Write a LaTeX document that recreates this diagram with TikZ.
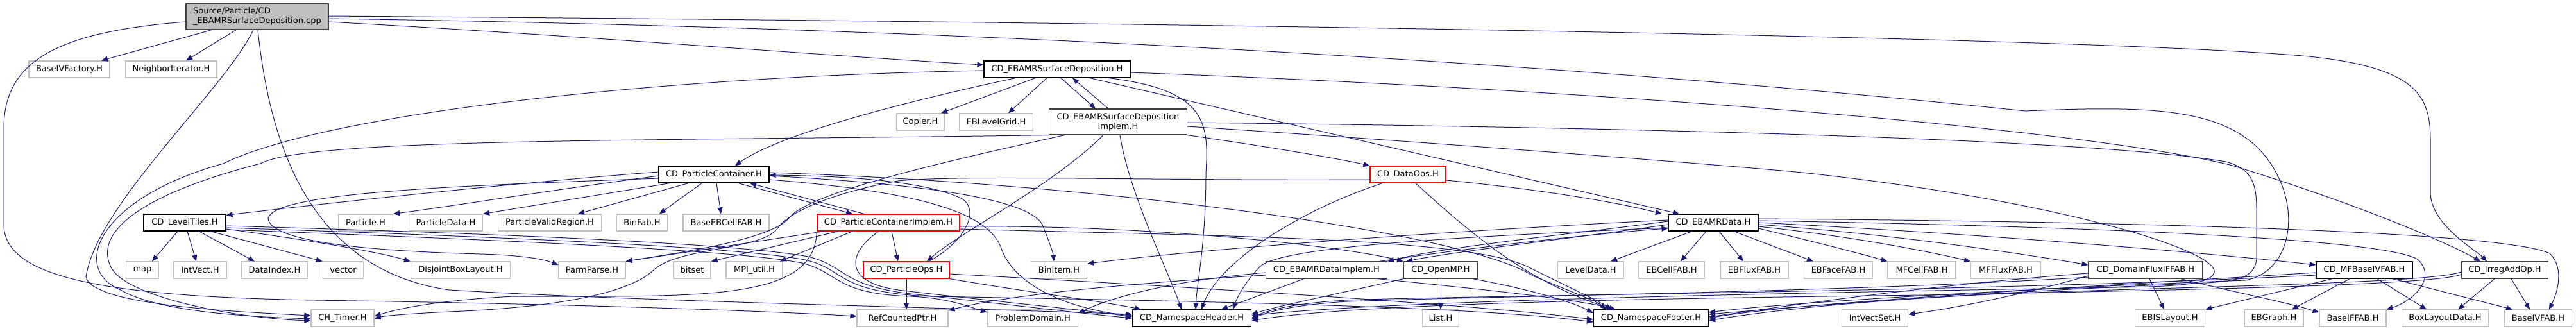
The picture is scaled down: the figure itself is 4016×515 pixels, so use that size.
\documentclass[tikz,border=0pt]{standalone}
\usepackage{fontspec}
\setmainfont{DejaVu Sans}
\usetikzlibrary{arrows.meta}
\definecolor{edgec}{HTML}{191970}
\definecolor{greyb}{HTML}{BFBFBF}
\definecolor{darkb}{HTML}{404040}
\begin{document}
\begin{tikzpicture}[x=1pt,y=-1pt,
  nb/.style={draw=black, fill=white, line width=1.2pt, inner sep=0pt, minimum height=26pt, font=\fontsize{13}{15}\selectfont},
  gb/.style={nb, draw=greyb},
  rb/.style={nb, draw=red},
  db/.style={nb, draw=darkb},
  rootn/.style={nb, draw=darkb, fill=greyb, minimum height=40pt, align=left},
  dep/.style={draw=edgec, line width=1pt, -{Triangle[length=10pt,width=8pt]}}
]
\useasboundingbox (0,0) rectangle (4016,515);
% ---------------- nodes ----------------
\node[rootn, minimum width=222pt] (R) at (401,26) {Source/Particle/CD\\\_EBAMRSurfaceDeposition.cpp};
\node[gb, minimum width=126pt] (BIVF) at (108,108) {BaseIVFactory.H};
\node[gb, minimum width=142pt] (NI) at (267,108) {NeighborIterator.H};
\node[nb, minimum width=228pt] (SD) at (1648,108) {CD\_EBAMRSurfaceDeposition.H};
\node[gb, minimum width=74pt] (COP) at (1435,190) {Copier.H};
\node[gb, minimum width=115pt] (EBLG) at (1553,190) {EBLevelGrid.H};
\node[db, minimum width=215pt, minimum height=40pt, align=center] (IMP) at (1743,190) {CD\_EBAMRSurfaceDeposition\\Implem.H};
\node[nb, minimum width=172pt] (PC) at (1113,272) {CD\_ParticleContainer.H};
\node[rb, minimum width=118pt] (DO) at (2195,272) {CD\_DataOps.H};
\node[nb, minimum width=128pt] (LT) at (288,347) {CD\_LevelTiles.H};
\node[gb, minimum width=85pt] (PART) at (570,347) {Particle.H};
\node[gb, minimum width=115pt] (PDAT) at (695,347) {ParticleData.H};
\node[gb, minimum width=161pt] (PVR) at (857,347) {ParticleValidRegion.H};
\node[gb, minimum width=79pt] (BINF) at (1001,347) {BinFab.H};
\node[gb, minimum width=134pt] (BEBC) at (1132,347) {BaseEBCellFAB.H};
\node[rb, minimum width=222pt] (PCI) at (1385,347) {CD\_ParticleContainerImplem.H};
\node[nb, minimum width=140pt] (EBD) at (2671,347) {CD\_EBAMRData.H};
\node[gb, minimum width=51pt] (MAP) at (222,421) {map};
\node[gb, minimum width=82pt] (IV) at (312,421) {IntVect.H};
\node[gb, minimum width=103pt] (DI) at (428,421) {DataIndex.H};
\node[gb, minimum width=63pt] (VEC) at (535,421) {vector};
\node[gb, minimum width=155pt] (DBL) at (718,421) {DisjointBoxLayout.H};
\node[gb, minimum width=104pt] (PP) at (923,421) {ParmParse.H};
\node[gb, minimum width=58pt] (BITS) at (1079,421) {bitset};
\node[gb, minimum width=88pt] (MPI) at (1176,421) {MPI\_util.H};
\node[rb, minimum width=134pt] (POPS) at (1413,421) {CD\_ParticleOps.H};
\node[gb, minimum width=87pt] (BINI) at (1651,421) {BinItem.H};
\node[db, minimum width=189pt] (EDI) at (2068,421) {CD\_EBAMRDataImplem.H};
\node[db, minimum width=115pt] (OMP) at (2246,421) {CD\_OpenMP.H};
\node[gb, minimum width=103pt] (LD) at (2480,421) {LevelData.H};
\node[gb, minimum width=103pt] (EBCF) at (2606,421) {EBCellFAB.H};
\node[gb, minimum width=106pt] (EBFL) at (2735,421) {EBFluxFAB.H};
\node[gb, minimum width=107pt] (EBFA) at (2866,421) {EBFaceFAB.H};
\node[gb, minimum width=106pt] (MFC) at (2996,421) {MFCellFAB.H};
\node[gb, minimum width=109pt] (MFF) at (3127,421) {MFFluxFAB.H};
\node[db, minimum width=178pt] (DFIF) at (3345,421) {CD\_DomainFluxIFFAB.H};
\node[nb, minimum width=150pt] (MFB) at (3686,421) {CD\_MFBaseIVFAB.H};
\node[db, minimum width=135pt] (IAO) at (3905,421) {CD\_IrregAddOp.H};
\node[gb, minimum width=98pt] (TIM) at (534,496) {CH\_Timer.H};
\node[gb, minimum width=142pt] (RCP) at (1407,496) {RefCountedPtr.H};
\node[gb, minimum width=141pt] (PD) at (1610,496) {ProblemDomain.H};
\node[nb, minimum width=185pt] (NH) at (1858,496) {CD\_NamespaceHeader.H};
\node[gb, minimum width=57pt] (LIST) at (2246,496) {List.H};
\node[nb, minimum width=179pt] (NF) at (2574,496) {CD\_NamespaceFooter.H};
\node[gb, minimum width=103pt] (IVS) at (2923,496) {IntVectSet.H};
\node[gb, minimum width=109pt] (EBIS) at (3383,496) {EBISLayout.H};
\node[gb, minimum width=92pt] (EBG) at (3545,496) {EBGraph.H};
\node[gb, minimum width=104pt] (BIFF) at (3668,496) {BaseIFFAB.H};
\node[gb, minimum width=135pt] (BLD) at (3812,496) {BoxLayoutData.H};
\node[gb, minimum width=105pt] (BIVB) at (3957,496) {BaseIVFAB.H};
% ---------------- edges: root ----------------
\draw[dep] ([xshift=-71pt]R.south) -- ([xshift=50pt]BIVF.north);
\draw[dep] ([xshift=-33pt]R.south) -- ([xshift=23pt]NI.north);
\draw[dep] ([yshift=-8pt]R.east) .. controls (900,55) and (1300,88) .. ([yshift=7pt]SD.west);
\draw[dep] ([yshift=1pt]R.east) .. controls (2000,36) and (3300,60) .. (3600,88) .. controls (3770,106) and (3789,150) .. (3789,220) -- (3789,300) .. controls (3789,350) and (3860,390) .. ([xshift=-28pt]IAO.north);
\draw[dep] ([yshift=-3pt]R.east) .. controls (1800,48) and (2700,125) .. (3157,173) .. controls (3350,165) and (3480,165) .. (3540,255) .. controls (3590,330) and (3570,425) .. (3500,437) .. controls (3200,448) and (2800,470) .. ([yshift=9pt]NF.east);
\draw[dep] ([xshift=-6pt]R.south) .. controls (350,140) and (150,320) .. (134,432) .. controls (145,475) and (350,485) .. ([yshift=4pt]TIM.west);
\draw[dep] ([xshift=1pt]R.south) .. controls (420,220) and (480,420) .. (700,452) .. controls (1000,470) and (1500,480) .. ([yshift=6pt]NH.west);
\draw[dep] ([yshift=-8pt]R.west) .. controls (80,50) and (6,100) .. (6,200) -- (6,350) .. controls (6,430) and (150,462) .. (491,468) .. controls (900,474) and (1200,485) .. ([yshift=3pt]RCP.west);
% ---------------- SurfaceDeposition.H ----------------
\draw[dep] ([xshift=-34pt]SD.south) -- ([xshift=32pt]COP.north);
\draw[dep] ([xshift=-16pt]SD.south) -- ([xshift=19pt]EBLG.north);
\draw[dep] ([xshift=6pt]SD.south) -- ([xshift=-35pt]IMP.north);
\draw[dep] ([xshift=-15pt]IMP.north) -- ([xshift=24pt]SD.south);
\draw[dep] ([xshift=-65pt]SD.south) .. controls (1450,150) and (1220,205) .. ([xshift=33pt]PC.north);
\draw[dep] ([xshift=51pt]SD.south) -- ([xshift=-53pt]EBD.north);
\draw[dep] ([xshift=80pt]SD.south) .. controls (1880,140) and (1885,190) .. (1880,270) .. controls (1880,380) and (1866,440) .. ([xshift=6pt]NH.north);
\draw[dep] ([yshift=-2pt]SD.west) .. controls (1000,120) and (500,180) .. (348,255) .. controls (150,310) and (110,420) .. (188,452) .. controls (250,488) and (400,494) .. ([yshift=-1pt]TIM.west);
\draw[dep] ([yshift=-5pt]SD.east) .. controls (2500,140) and (3250,200) .. (3480,258) .. controls (3650,310) and (3800,370) .. ([xshift=-38pt]IAO.north);
% ---------------- SurfaceDepositionImplem.H ----------------
\draw[dep] (IMP.south west) .. controls (1000,220) and (480,215) .. (406,255) .. controls (230,300) and (140,360) .. (175,420) .. controls (200,460) and (350,495) .. ([yshift=-4pt]TIM.west);
\draw[dep] ([xshift=-23pt]IMP.south) .. controls (1640,290) and (1500,360) .. ([xshift=32pt]POPS.north);
\draw[dep] ([xshift=3pt]IMP.south) .. controls (1760,300) and (1820,420) .. ([xshift=-16pt]NH.north);
\draw[dep] (IMP.south east) .. controls (2000,232) and (2100,250) .. (DO.north west);
\draw[dep] ([yshift=-1pt]IMP.east) .. controls (2500,198) and (3250,215) .. (3470,252) .. controls (3520,265) and (3518,300) .. (3518,340) -- (3518,400) .. controls (3518,432) and (3490,438) .. (3440,441) .. controls (3100,455) and (2800,478) .. ([yshift=6pt]NF.east);
\draw[dep] ([yshift=-7pt]IMP.east) .. controls (2200,220) and (2600,250) .. (2800,268) .. controls (3200,310) and (3460,390) .. (3452,425) .. controls (3445,445) and (3380,447) .. (3300,448) .. controls (2700,458) and (2150,470) .. ([yshift=4pt]NH.east);
\draw[dep] ([xshift=-83pt]IMP.south) .. controls (1480,250) and (1260,300) .. (1230,340) .. controls (1200,375) and (1050,395) .. (PP.north east);
% ---------------- DataOps ----------------
\draw[dep] ([yshift=-9pt]DO.east) .. controls (2400,295) and (2520,315) .. ([xshift=-80pt]EBD.north);
\draw[dep] ([xshift=12pt]DO.south) .. controls (2320,390) and (2400,445) .. ([xshift=-59pt]NF.north);
\draw[dep] ([xshift=-40pt]DO.south) .. controls (2020,330) and (1900,410) .. ([xshift=15pt]NH.north);
\draw[dep] ([yshift=-8pt]DO.west) .. controls (1800,282) and (1500,272) .. (1400,282) .. controls (1300,300) and (1230,330) .. (1213,355) .. controls (1190,390) and (1060,385) .. (1020,420) .. controls (990,450) and (900,478) .. (700,486) .. controls (640,489) and (600,492) .. ([yshift=-1pt]TIM.east);
% ---------------- ParticleContainer ----------------
\draw[dep] ([yshift=4pt]PC.west) .. controls (800,285) and (500,318) .. ([yshift=-2pt]LT.north east);
\draw[dep] ([yshift=-2pt]PC.west) .. controls (850,298) and (700,322) .. (PART.north east);
\draw[dep] ([xshift=-69pt]PC.south) -- (PDAT.north east);
\draw[dep] ([xshift=-40pt]PC.south) -- ([xshift=44pt]PVR.north);
\draw[dep] ([xshift=-19pt]PC.south) -- ([xshift=27pt]BINF.north);
\draw[dep] ([xshift=4pt]PC.south) -- ([xshift=-8pt]BEBC.north);
\draw[dep] ([xshift=38pt]PC.south) -- ([xshift=-56pt]PCI.north);
\draw[dep] ([xshift=-38pt]PCI.north) -- ([xshift=56pt]PC.south);
\draw[dep] ([yshift=-6pt]PC.west) .. controls (700,290) and (430,300) .. (418,340) .. controls (420,380) and (600,392) .. (750,396) .. controls (820,398) and (850,405) .. ([yshift=8pt]PP.west);
\draw[dep] ([yshift=-2pt]PC.east) .. controls (1400,285) and (1600,305) .. (1625,350) .. controls (1635,375) and (1642,395) .. ([xshift=-8pt]BINI.north);
\draw[dep] ([yshift=-8pt]PC.east) .. controls (1450,300) and (1545,335) .. (1562,390) .. controls (1590,460) and (1700,486) .. ([yshift=4pt]NH.west);
\draw[dep] ([yshift=3pt]PC.east) .. controls (1700,285) and (2280,360) .. (2390,430) .. controls (2450,455) and (2490,470) .. ([xshift=-70pt]NF.north);
% ---------------- ParticleContainerImplem ----------------
\draw[dep] ([xshift=-100pt]PCI.south) -- (PP.north east);
\draw[dep] ([xshift=-78pt]PCI.south) -- (BITS.north east);
\draw[dep] ([xshift=-56pt]PCI.south) -- ([xshift=40pt]MPI.north);
\draw[dep] ([xshift=5pt]PCI.south) -- ([xshift=-13pt]POPS.north);
\draw[dep] ([xshift=-15pt]PCI.south) .. controls (1320,395) and (1315,440) .. (1400,452) .. controls (1550,470) and (1700,484) .. ([yshift=2pt]NH.west);
\draw[dep] ([yshift=-6pt]PCI.east) .. controls (1800,350) and (2100,385) .. (OMP.north west);
\draw[dep] ([yshift=-10pt]PCI.east) .. controls (1900,368) and (2280,370) .. (2380,415) .. controls (2440,445) and (2490,468) .. ([xshift=-62pt]NF.north);
\draw[dep] (PCI.south west) .. controls (1270,470) and (1100,462) .. (800,462) .. controls (650,470) and (600,488) .. ([yshift=3pt]TIM.east);
% ---------------- ParticleOps ----------------
\draw[dep] (POPS.south) -- ([xshift=6pt]RCP.north);
\draw[dep] ([xshift=35pt]POPS.north) .. controls (1500,380) and (1530,330) .. (1500,310) .. controls (1440,280) and (1300,274) .. ([yshift=-1pt]PC.east);
\draw[dep] (POPS.south east) .. controls (1600,455) and (1720,470) .. ([xshift=-79pt]NH.north);
\draw[dep] ([yshift=-6pt]POPS.east) .. controls (1900,450) and (2300,475) .. ([yshift=-2pt]NF.west);
% ---------------- LevelTiles ----------------
\draw[dep] ([xshift=-11pt]LT.south) -- ([xshift=15pt]MAP.north);
\draw[dep] ([xshift=4pt]LT.south) -- ([xshift=-6pt]IV.north);
\draw[dep] ([xshift=22pt]LT.south) -- ([xshift=-31pt]DI.north);
\draw[dep] ([xshift=40pt]LT.south) -- (VEC.north west);
\draw[dep] ([yshift=-10pt]LT.east) .. controls (450,370) and (580,390) .. (DBL.north west);
\draw[dep] ([yshift=-5pt]LT.east) .. controls (800,365) and (1150,380) .. (1260,400) .. controls (1320,415) and (1310,445) .. (1420,458) .. controls (1600,478) and (1700,490) .. (NH.west);
\draw[dep] ([yshift=-8pt]LT.east) .. controls (800,370) and (1150,385) .. (1255,405) .. controls (1320,420) and (1300,455) .. (1450,462) .. controls (1900,470) and (2300,478) .. ([yshift=-6pt]NF.west);
\draw[dep] ([yshift=-11pt]LT.east) .. controls (800,375) and (1150,390) .. (1250,410) .. controls (1310,425) and (1300,458) .. (1420,462) .. controls (1480,465) and (1510,478) .. ([yshift=9pt]PD.west);
% ---------------- EBAMRData ----------------
\draw[dep] ([xshift=-33pt]EBD.south) -- ([xshift=31pt]LD.north);
\draw[dep] ([xshift=-11pt]EBD.south) -- ([xshift=14pt]EBCF.north);
\draw[dep] ([xshift=9pt]EBD.south) -- ([xshift=-17pt]EBFL.north);
\draw[dep] ([xshift=32pt]EBD.south) -- ([xshift=-39pt]EBFA.north);
\draw[dep] ([yshift=-9pt]EBD.east) .. controls (2820,375) and (2900,395) .. (MFC.north west);
\draw[dep] ([yshift=-6pt]EBD.east) .. controls (2900,370) and (3020,395) .. (MFF.north west);
\draw[dep] ([yshift=-3pt]EBD.east) .. controls (2950,365) and (3150,395) .. ([yshift=8pt]DFIF.west);
\draw[dep] (EBD.east) .. controls (3100,365) and (3450,395) .. ([yshift=8pt]MFB.west);
\draw[dep] ([yshift=3pt]EBD.east) .. controls (3200,352) and (3720,370) .. (3770,405) .. controls (3800,435) and (3760,470) .. (BIFF.north east);
\draw[dep] ([yshift=6pt]EBD.east) .. controls (3300,345) and (3900,360) .. (3975,395) .. controls (4000,420) and (3985,460) .. ([xshift=17pt]BIVB.north);
\draw[dep] ([yshift=4pt]EBD.west) .. controls (2300,358) and (1900,385) .. ([yshift=10pt]BINI.east);
\draw[dep] ([yshift=2pt]EBD.west) .. controls (2450,365) and (2250,385) .. (EDI.north east);
\draw[dep] ([xshift=-12pt]EDI.north east) .. controls (2300,385) and (2480,365) .. ([yshift=-9pt]EBD.west);
\draw[dep] ([yshift=-3pt]EBD.west) .. controls (2450,372) and (2280,390) .. ([xshift=4pt]OMP.north west);
\draw[dep] ([yshift=-8pt]EBD.west) .. controls (2250,370) and (2000,385) .. (1965,415) .. controls (1945,435) and (1930,460) .. ([xshift=64pt]NH.north);
% ---------------- EBAMRDataImplem / OpenMP ----------------
\draw[dep] ([xshift=-35pt]EDI.south) -- ([xshift=46pt]NH.north);
\draw[dep] ([xshift=80pt]EDI.south) .. controls (2300,450) and (2450,465) .. ([xshift=-55pt]NF.north);
\draw[dep] ([yshift=-4pt]EDI.west) .. controls (1800,440) and (1720,470) .. ([yshift=8pt]PD.east);
\draw[dep] ([yshift=-8pt]EDI.west) .. controls (1700,445) and (1550,465) .. ([yshift=12pt]RCP.east);
\draw[dep] (OMP.south) -- (LIST.north);
\draw[dep] (OMP.south west) .. controls (2100,455) and (2000,475) .. ([yshift=6pt]NH.east);
\draw[dep] ([xshift=50pt]OMP.south) .. controls (2380,450) and (2450,470) .. ([yshift=8pt]NF.west);
% ---------------- DomainFluxIFFAB ----------------
\draw[dep] ([xshift=6pt]DFIF.south) -- ([xshift=-9pt]EBIS.north);
\draw[dep] ([yshift=-9pt]DFIF.west) .. controls (3150,460) and (3050,480) .. ([yshift=6pt]IVS.east);
\draw[dep] ([xshift=55pt]DFIF.south) .. controls (3480,455) and (3560,470) .. ([yshift=9pt]BIFF.west);
\draw[dep] ([yshift=-5pt]DFIF.west) .. controls (3000,445) and (2780,478) .. ([yshift=2pt]NF.east);
\draw[dep] ([yshift=-11pt]DFIF.west) .. controls (2900,455) and (2300,462) .. (2100,470) .. controls (2020,475) and (1975,486) .. ([yshift=-2pt]NH.east);
% ---------------- MFBaseIVFAB ----------------
\draw[dep] ([xshift=-23pt]MFB.south) -- ([xshift=28pt]EBG.north);
\draw[dep] ([xshift=20pt]MFB.south) -- ([xshift=-29pt]BLD.north);
\draw[dep] ([xshift=44pt]MFB.south) -- ([xshift=-40pt]BIVB.north);
\draw[dep] ([xshift=-50pt]MFB.south) -- (EBIS.north east);
\draw[dep] ([yshift=-4pt]MFB.west) .. controls (3200,450) and (2800,472) .. (NF.east);
\draw[dep] ([yshift=-8pt]MFB.west) .. controls (3100,455) and (2300,460) .. (2100,468) .. controls (2020,472) and (1975,484) .. (NH.east);
% ---------------- IrregAddOp ----------------
\draw[dep] ([xshift=-16pt]IAO.south) -- ([xshift=20pt]BLD.north);
\draw[dep] ([xshift=10pt]IAO.south) -- ([xshift=-13pt]BIVB.north);
\draw[dep] ([yshift=-3pt]IAO.west) .. controls (3790,440) and (3500,445) .. (3200,455) .. controls (2900,465) and (2720,490) .. ([yshift=-4pt]NF.east);
\draw[dep] ([yshift=-7pt]IAO.west) .. controls (3790,445) and (3400,452) .. (3000,460) .. controls (2500,466) and (2100,475) .. ([yshift=-4pt]NH.east);
\end{tikzpicture}
\end{document}
